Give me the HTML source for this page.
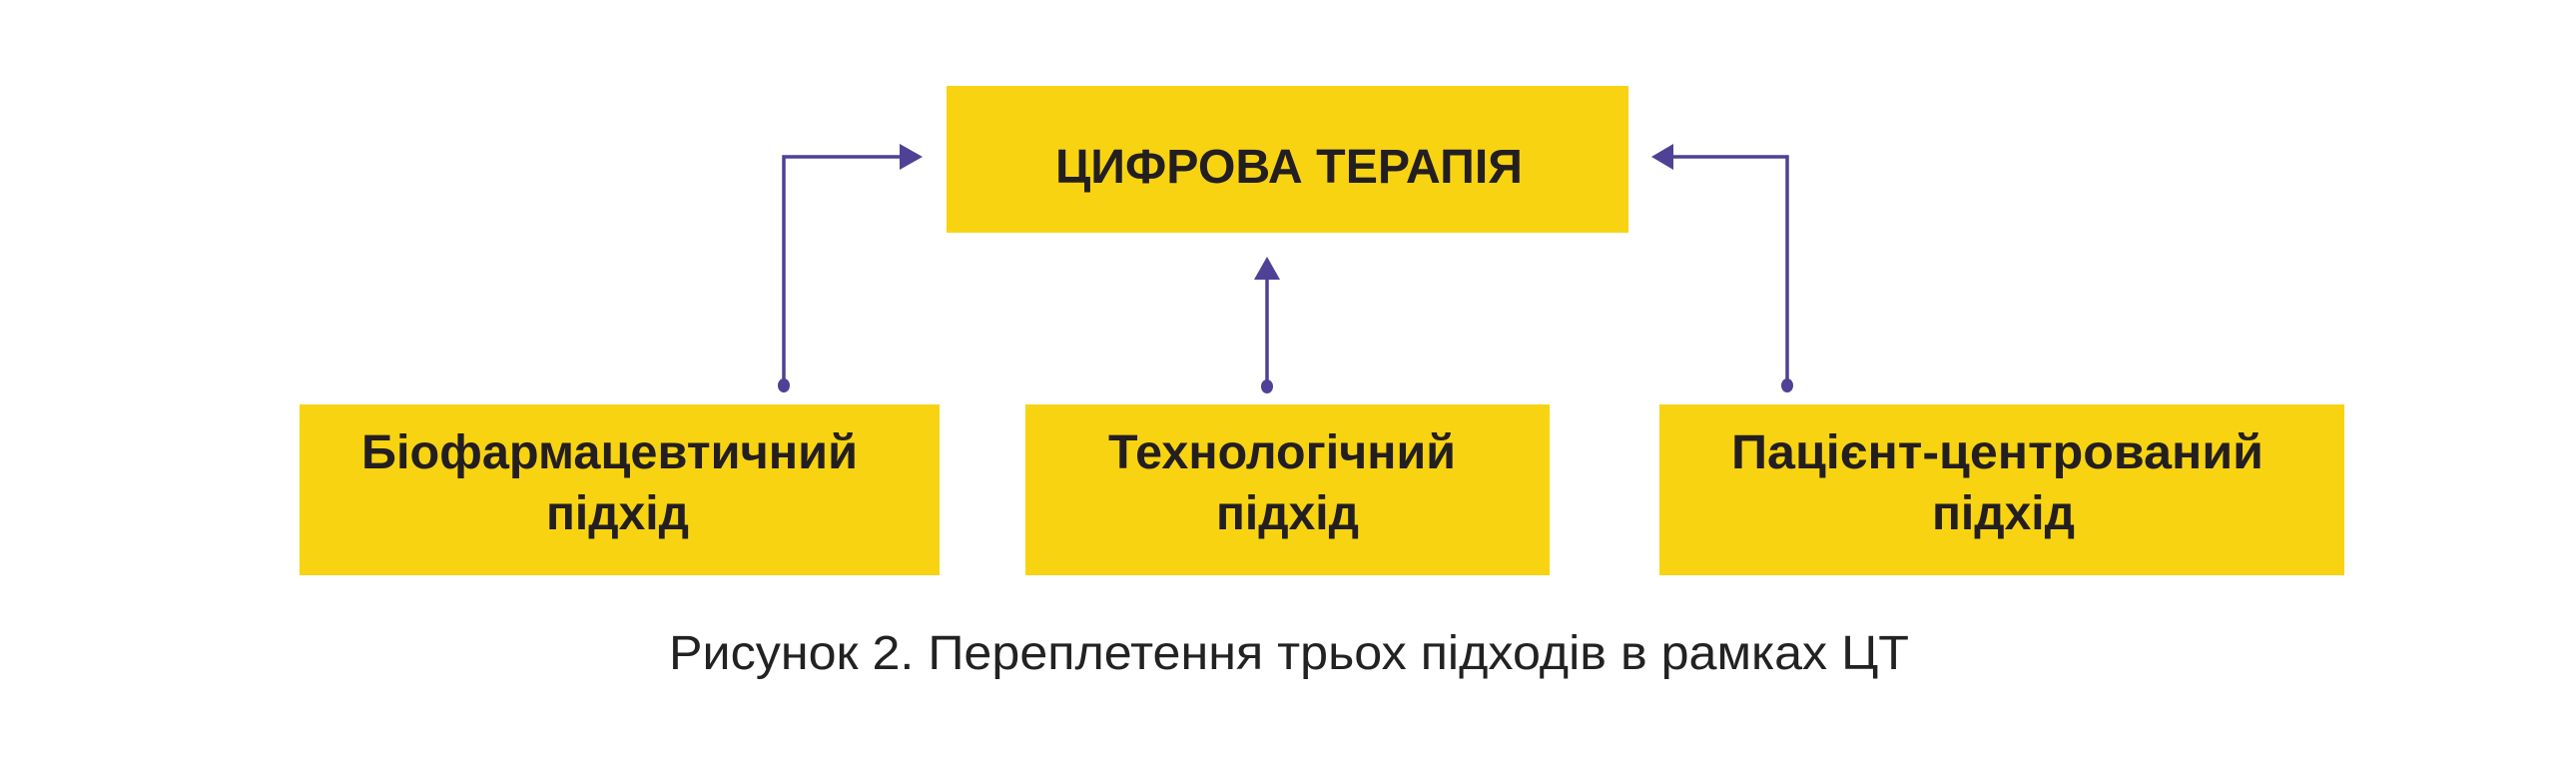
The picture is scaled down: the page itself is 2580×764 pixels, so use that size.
<!DOCTYPE html>
<html><head><meta charset="utf-8"><style>
html,body{margin:0;padding:0;background:#fff;}
svg{display:block;}
</style></head><body>
<svg width="2580" height="764" viewBox="0 0 2580 764" xmlns="http://www.w3.org/2000/svg">
<rect width="2580" height="764" fill="#fff"/>
<g fill="#F8D312">
<rect x="948" y="86" width="683" height="147"/>
<rect x="300" y="405" width="641" height="171"/>
<rect x="1027" y="405" width="525" height="171"/>
<rect x="1662" y="405" width="686" height="171"/>
</g>
<g stroke="#4E4196" stroke-width="3.5" fill="none">
<polyline points="785,386 785,157 905,157"/>
<polyline points="1269,387 1269,276"/>
<polyline points="1790,386 1790,157 1670,157"/>
</g>
<g fill="#4E4196">
<polygon points="924,157 901,144 901,170"/>
<polygon points="1269,257 1256,280 1282,280"/>
<polygon points="1654,157 1676,144 1676,170"/>
<ellipse cx="785" cy="386" rx="6" ry="7"/>
<ellipse cx="1269" cy="387" rx="6" ry="7"/>
<ellipse cx="1790" cy="386" rx="6" ry="7"/>
</g>
<g font-family="Liberation Sans, sans-serif" font-weight="bold" fill="#231F20" font-size="48">
<text x="1057" y="183" textLength="468" lengthAdjust="spacingAndGlyphs">ЦИФРОВА ТЕРАПІЯ</text>
<text x="362" y="469" textLength="497" lengthAdjust="spacingAndGlyphs">Біофармацевтичний</text>
<text x="547" y="530" textLength="143" lengthAdjust="spacingAndGlyphs">підхід</text>
<text x="1110" y="469" textLength="348" lengthAdjust="spacingAndGlyphs">Технологічний</text>
<text x="1218" y="530" textLength="143" lengthAdjust="spacingAndGlyphs">підхід</text>
<text x="1734" y="469" textLength="533" lengthAdjust="spacingAndGlyphs">Пацієнт-центрований</text>
<text x="1935" y="530" textLength="143" lengthAdjust="spacingAndGlyphs">підхід</text>
</g>
<text x="670" y="670" font-family="Liberation Sans, sans-serif" font-size="48" fill="#222" textLength="1242" lengthAdjust="spacingAndGlyphs">Рисунок 2. Переплетення трьох підходів в рамках ЦТ</text>
</svg>
</body></html>
